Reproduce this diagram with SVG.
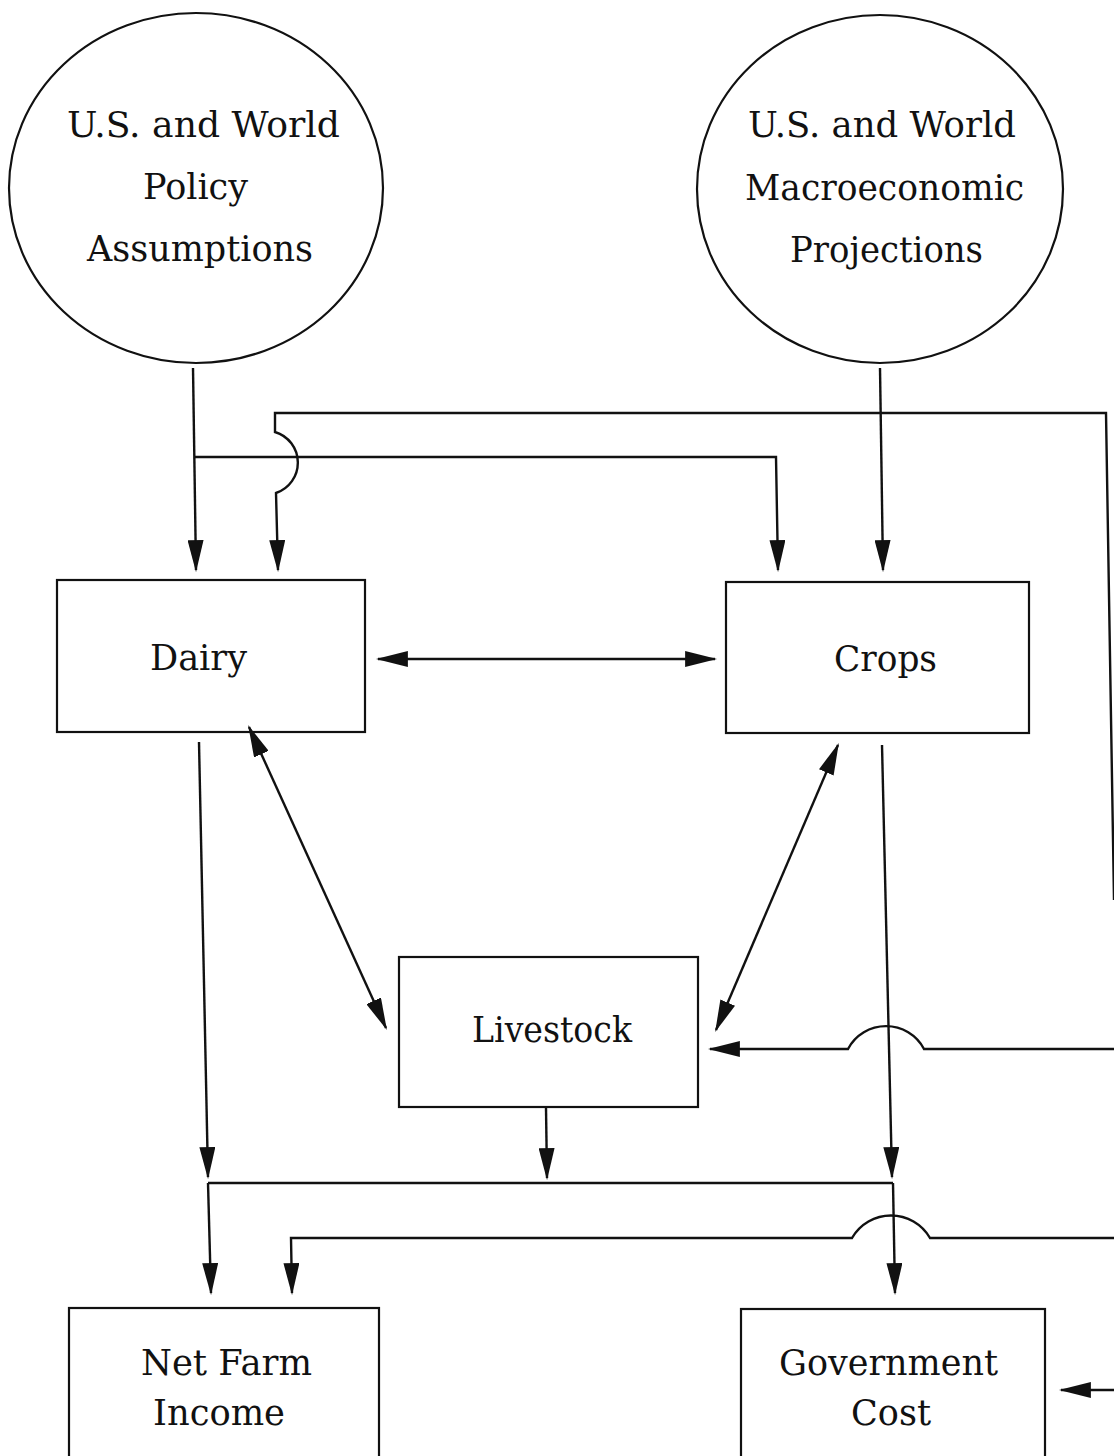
<svg xmlns="http://www.w3.org/2000/svg" width="1114" height="1456" viewBox="0 0 1114 1456">
<style>
.shape{fill:none;stroke:#111;stroke-width:2.2}
.conn{fill:none;stroke:#111;stroke-width:2.4}
.lbl{font-family:"DejaVu Serif","Liberation Serif",serif;font-size:35px;fill:#111;text-anchor:start}
</style>
<defs>
<marker id="ah" markerUnits="userSpaceOnUse" markerWidth="32" markerHeight="16" viewBox="0 0 30 15" refX="28" refY="7.5" orient="auto-start-reverse">
<path d="M0,0 L30,7.5 L0,15 z" fill="#111"/>
</marker>
</defs>
<rect width="1114" height="1456" fill="#fff"/>
<g id="policy">
<ellipse class="shape" cx="196" cy="188" rx="187" ry="175"/>
<text class="lbl" x="67" y="137" textLength="273" lengthAdjust="spacingAndGlyphs">U.S. and World</text>
<text class="lbl" x="143" y="199" textLength="105" lengthAdjust="spacingAndGlyphs">Policy</text>
<text class="lbl" x="87" y="261" textLength="226" lengthAdjust="spacingAndGlyphs">Assumptions</text>
</g>
<g id="macro">
<ellipse class="shape" cx="880" cy="189" rx="183" ry="174"/>
<text class="lbl" x="748" y="137" textLength="268" lengthAdjust="spacingAndGlyphs">U.S. and World</text>
<text class="lbl" x="745" y="200" textLength="279" lengthAdjust="spacingAndGlyphs">Macroeconomic</text>
<text class="lbl" x="790" y="262" textLength="193" lengthAdjust="spacingAndGlyphs">Projections</text>
</g>
<g id="dairy">
<rect class="shape" x="57" y="580" width="308" height="152"/>
<text class="lbl" x="150" y="670" textLength="97" lengthAdjust="spacingAndGlyphs">Dairy</text>
</g>
<g id="crops">
<rect class="shape" x="726" y="582" width="303" height="151"/>
<text class="lbl" x="834" y="671" textLength="103" lengthAdjust="spacingAndGlyphs">Crops</text>
</g>
<g id="livestock">
<rect class="shape" x="399" y="957" width="299" height="150"/>
<text class="lbl" x="472" y="1042" textLength="160" lengthAdjust="spacingAndGlyphs">Livestock</text>
</g>
<g id="netfarm">
<rect class="shape" x="69" y="1308" width="310" height="170"/>
<text class="lbl" x="141" y="1375" textLength="171" lengthAdjust="spacingAndGlyphs">Net Farm</text>
<text class="lbl" x="153" y="1425" textLength="132" lengthAdjust="spacingAndGlyphs">Income</text>
</g>
<g id="govcost">
<rect class="shape" x="741" y="1309" width="304" height="170"/>
<text class="lbl" x="779" y="1375" textLength="219" lengthAdjust="spacingAndGlyphs">Government</text>
<text class="lbl" x="851" y="1425" textLength="80" lengthAdjust="spacingAndGlyphs">Cost</text>
</g>
<g id="connectors">
<path class="conn" d="M193,368 L196,570" marker-end="url(#ah)"/>
<path class="conn" d="M195,457 L776,457 L778,570" marker-end="url(#ah)"/>
<path class="conn" d="M880,368 L883,570" marker-end="url(#ah)"/>
<path class="conn" d="M1114,900 L1106,413 L275,413 L275,432 A32,32 0 0 1 276,493 L278,570" marker-end="url(#ah)"/>
<path class="conn" d="M378,659 L715,659" marker-start="url(#ah)" marker-end="url(#ah)"/>
<path class="conn" d="M249,727 L386,1028" marker-start="url(#ah)" marker-end="url(#ah)"/>
<path class="conn" d="M838,745 L716,1030" marker-start="url(#ah)" marker-end="url(#ah)"/>
<path class="conn" d="M1114,1049 L924,1049 A43,43 0 0 0 848,1049 L710,1049" marker-end="url(#ah)"/>
<path class="conn" d="M199,742 L208,1177" marker-end="url(#ah)"/>
<path class="conn" d="M546,1108 L547,1178" marker-end="url(#ah)"/>
<path class="conn" d="M882,745 L892,1177" marker-end="url(#ah)"/>
<path class="conn" d="M208,1183 L893,1183"/>
<path class="conn" d="M208,1183 L211,1293" marker-end="url(#ah)"/>
<path class="conn" d="M893,1183 L895,1293" marker-end="url(#ah)"/>
<path class="conn" d="M1114,1238 L930,1238 A45,45 0 0 0 852,1238 L291,1238 L292,1293" marker-end="url(#ah)"/>
<path class="conn" d="M1114,1390 L1061,1390" marker-end="url(#ah)"/>
</g>
</svg>
